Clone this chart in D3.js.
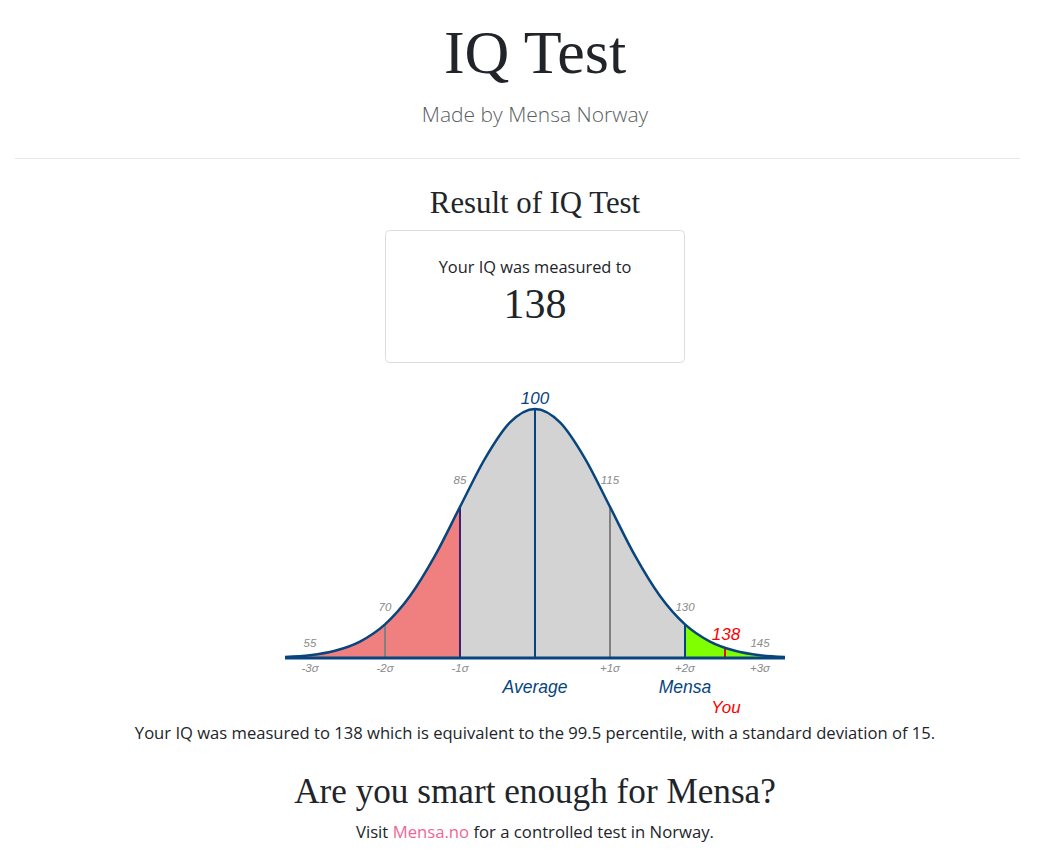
<!DOCTYPE html>
<html>
<head>
<meta charset="utf-8">
<script src="https://cdn.jsdelivr.net/npm/d3@7"></script>
<style>
  html, body { margin: 0; padding: 0; background: #fff; }
  svg { display: block; }
</style>
</head>
<body>
<svg id="page" width="1060" height="854"></svg>
<script>
// ---------- data ----------
const iqPoints = [50, 55, 60, 65, 70, 75, 80, 85, 90, 95, 100, 105, 110, 115, 120, 125, 130, 135, 140, 145, 150];
const relDensity = [0.004, 0.011, 0.029, 0.066, 0.135, 0.249, 0.411, 0.607, 0.801, 0.946, 1.0, 0.946, 0.801, 0.607, 0.411, 0.249, 0.135, 0.066, 0.029, 0.011, 0.004];
const markerIQ = [70, 85, 100, 115, 130];
const markerColor = ["#808080", "#3f1f6f", "#08457e", "#808080", "#08457e"];
const valueLabels = ["55", "70", "85", "115", "130", "145"];
const valueLabelIQ = [55, 70, 85, 115, 130, 145];
const sigmaLabels = ["-3σ", "-2σ", "-1σ", "+1σ", "+2σ", "+3σ"];
const sigmaIQ = [55, 70, 85, 115, 130, 145];
const meanIQ = 100;
const mensaIQ = 130;
const yourIQ = 138;
const yourDensity = 0.040;
const percentile = 99.5;
const stdDev = 15;

// ---------- layout ----------
const svg = d3.select("#page");
const cx = 535;
const dark = "#212529";
const blue = "#08457e";

function txt(x, y, s, o) {
  const t = svg.append("text").attr("x", x).attr("y", y).attr("text-anchor", "middle").text(s);
  Object.entries(o || {}).forEach(([k, v]) => t.attr(k, v));
  return t;
}

// header
txt(cx, 73, "IQ Test", {"font-family": "Liberation Serif, serif", "font-size": 62, fill: dark});
txt(cx, 122, "Made by Mensa Norway", {"font-family": "Open Sans, sans-serif", "font-weight": 300, "font-size": 21, fill: "#5b5f63"});
svg.append("line").attr("x1", 15).attr("x2", 1020).attr("y1", 158.5).attr("y2", 158.5).attr("stroke", "#e6e6e6");
txt(cx, 213, "Result of IQ Test", {"font-family": "Liberation Serif, serif", "font-size": 30.8, fill: dark});
svg.append("rect").attr("x", 385.5).attr("y", 230.5).attr("width", 299).attr("height", 132).attr("rx", 4)
  .attr("fill", "#fff").attr("stroke", "#dddddd");
txt(cx, 273, "Your IQ was measured to", {"font-family": "Open Sans, sans-serif", "font-size": 16.4, fill: dark});
txt(cx, 318, String(yourIQ), {"font-family": "Liberation Serif, serif", "font-size": 42, fill: dark});

// ---------- chart ----------
const x = d3.scaleLinear().domain([50, 150]).range([285, 785]);
const baseY = 658;
const y = d3.scaleLinear().domain([0, 1]).range([baseY, 409]);
const pts = iqPoints.map((q, i) => ({q, d: relDensity[i]}));

const area = d3.area().x(p => x(p.q)).y0(baseY).y1(p => y(p.d)).curve(d3.curveMonotoneX);
const line = d3.line().x(p => x(p.q)).y(p => y(p.d)).curve(d3.curveMonotoneX);

const defs = svg.append("defs");
function clip(id, a, b) {
  defs.append("clipPath").attr("id", id).append("rect")
    .attr("x", x(a)).attr("y", 300).attr("width", x(b) - x(a)).attr("height", 400);
}
clip("cRed", 50, 85);
clip("cGray", 85, mensaIQ);
clip("cGreen", mensaIQ, 150);

const g = svg.append("g");
g.append("path").datum(pts).attr("d", area).attr("fill", "#f08080").attr("clip-path", "url(#cRed)");
g.append("path").datum(pts).attr("d", area).attr("fill", "#d3d3d3").attr("clip-path", "url(#cGray)");
g.append("path").datum(pts).attr("d", area).attr("fill", "#7fff00").attr("clip-path", "url(#cGreen)");

// marker lines
markerIQ.forEach((q, i) => {
  const d = relDensity[iqPoints.indexOf(q)];
  g.append("line").attr("x1", x(q)).attr("x2", x(q)).attr("y1", baseY).attr("y2", y(d))
    .attr("stroke", markerColor[i]).attr("stroke-width", 2);
});
g.append("line").attr("x1", x(yourIQ)).attr("x2", x(yourIQ)).attr("y1", baseY).attr("y2", y(yourDensity))
  .attr("stroke", "#ff0000").attr("stroke-width", 2);

// curve and baseline
g.append("path").datum(pts).attr("d", line).attr("fill", "none").attr("stroke", blue).attr("stroke-width", 2.5);
g.append("line").attr("x1", x(50)).attr("x2", x(150)).attr("y1", baseY).attr("y2", baseY)
  .attr("stroke", blue).attr("stroke-width", 3);

// labels
const lf = "Liberation Sans, Arial, sans-serif";
txt(x(meanIQ), 404, String(meanIQ), {"font-family": lf, "font-style": "italic", "font-size": 17, fill: blue});
const labelY = {55: 647, 70: 611, 85: 484, 115: 484, 130: 611, 145: 647};
valueLabels.forEach((s, i) => {
  txt(x(valueLabelIQ[i]), labelY[valueLabelIQ[i]], s, {"font-family": lf, "font-style": "italic", "font-size": 11.5, fill: "#8a8a8a"});
});
sigmaLabels.forEach((s, i) => {
  txt(x(sigmaIQ[i]), 672, s, {"font-family": lf, "font-style": "italic", "font-size": 11.5, fill: "#8a8a8a"});
});
txt(x(yourIQ) + 1, 640, String(yourIQ), {"font-family": lf, "font-style": "italic", "font-size": 17, fill: "#ff0000"});
txt(x(meanIQ), 693, "Average", {"font-family": lf, "font-style": "italic", "font-size": 17.5, fill: blue});
txt(x(mensaIQ), 693, "Mensa", {"font-family": lf, "font-style": "italic", "font-size": 17.5, fill: blue});
txt(x(yourIQ) + 1, 713, "You", {"font-family": lf, "font-style": "italic", "font-size": 17, fill: "#ff0000"});

// footer
txt(cx, 739, `Your IQ was measured to ${yourIQ} which is equivalent to the ${percentile} percentile, with a standard deviation of ${stdDev}.`,
  {"font-family": "Open Sans, sans-serif", "font-size": 16.6, fill: dark});
txt(cx, 803, "Are you smart enough for Mensa?", {"font-family": "Liberation Serif, serif", "font-size": 35.2, fill: dark});
const v = svg.append("text").attr("x", cx).attr("y", 838).attr("text-anchor", "middle")
  .attr("font-family", "Open Sans, sans-serif").attr("font-size", 16.7).attr("fill", dark);
v.append("tspan").text("Visit ");
v.append("tspan").attr("fill", "#f06595").text("Mensa.no");
v.append("tspan").text(" for a controlled test in Norway.");
</script>
</body>
</html>
